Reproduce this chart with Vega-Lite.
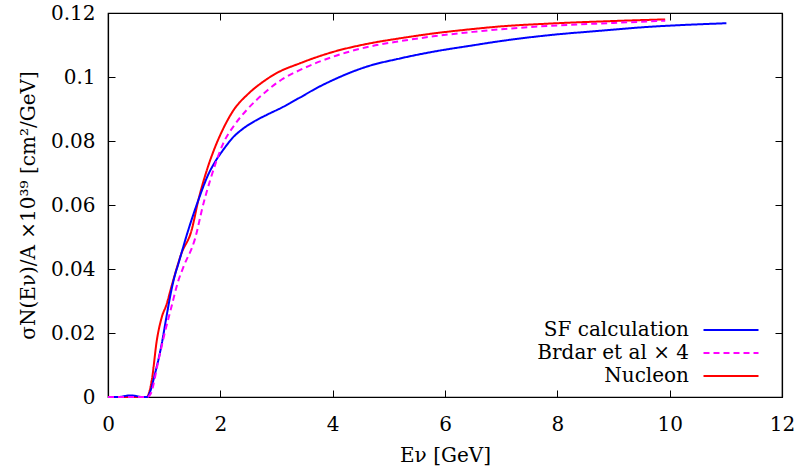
{
  "$schema": "https://vega.github.io/schema/vega-lite/v6.json",
  "width": 674,
  "height": 384,
  "autosize": {"type": "none"},
  "padding": {"left": 108, "top": 13, "right": 14, "bottom": 77},
  "background": "white",
  "config": {
    "view": {"stroke": "black", "strokeWidth": 1.2},
    "font": "DejaVu Serif",
    "axis": {"grid": false, "domain": true, "domainColor": "black", "domainWidth": 1.2, "tickSize": -7, "tickColor": "black", "tickWidth": 1,
             "labelFlush": false,
             "labelFont": "DejaVu Serif", "labelFontSize": 20, "labelColor": "black",
             "titleFont": "DejaVu Serif", "titleFontSize": 20, "titleFontWeight": "normal", "titleColor": "black"}
  },
  "data": {"values": [
    {"s": "Nucleon", "E": 0, "y": 0}, {"s": "Nucleon", "E": 0.5, "y": 0}, {"s": "Nucleon", "E": 0.69, "y": 0},
    {"s": "Nucleon", "E": 0.78, "y": 0.0053}, {"s": "Nucleon", "E": 0.87, "y": 0.0178}, {"s": "Nucleon", "E": 0.96, "y": 0.0251},
    {"s": "Nucleon", "E": 1.04, "y": 0.0288}, {"s": "Nucleon", "E": 1.13, "y": 0.0345}, {"s": "Nucleon", "E": 1.22, "y": 0.040},
    {"s": "Nucleon", "E": 1.3, "y": 0.0445}, {"s": "Nucleon", "E": 1.49, "y": 0.0522}, {"s": "Nucleon", "E": 1.61, "y": 0.0616},
    {"s": "Nucleon", "E": 1.76, "y": 0.0709}, {"s": "Nucleon", "E": 1.9, "y": 0.0778}, {"s": "Nucleon", "E": 2.05, "y": 0.0838},
    {"s": "Nucleon", "E": 2.23, "y": 0.0895}, {"s": "Nucleon", "E": 2.5, "y": 0.0948}, {"s": "Nucleon", "E": 2.76, "y": 0.0985},
    {"s": "Nucleon", "E": 3.0, "y": 0.1012}, {"s": "Nucleon", "E": 3.42, "y": 0.1043}, {"s": "Nucleon", "E": 4.0, "y": 0.1078},
    {"s": "Nucleon", "E": 4.6, "y": 0.1103}, {"s": "Nucleon", "E": 5.2, "y": 0.1121}, {"s": "Nucleon", "E": 5.79, "y": 0.1136},
    {"s": "Nucleon", "E": 6.5, "y": 0.1150}, {"s": "Nucleon", "E": 6.98, "y": 0.1158}, {"s": "Nucleon", "E": 7.87, "y": 0.1167},
    {"s": "Nucleon", "E": 9.0, "y": 0.1175}, {"s": "Nucleon", "E": 9.92, "y": 0.118},

    {"s": "SF calculation", "E": 0, "y": 0}, {"s": "SF calculation", "E": 0.2, "y": 0}, {"s": "SF calculation", "E": 0.3, "y": 0.0003},
    {"s": "SF calculation", "E": 0.4, "y": 0.0005}, {"s": "SF calculation", "E": 0.5, "y": 0.0003}, {"s": "SF calculation", "E": 0.6, "y": 0},
    {"s": "SF calculation", "E": 0.7, "y": 0}, {"s": "SF calculation", "E": 0.74, "y": 0.0012}, {"s": "SF calculation", "E": 0.84, "y": 0.0075},
    {"s": "SF calculation", "E": 0.96, "y": 0.0169}, {"s": "SF calculation", "E": 1.04, "y": 0.025}, {"s": "SF calculation", "E": 1.13, "y": 0.0335},
    {"s": "SF calculation", "E": 1.19, "y": 0.038}, {"s": "SF calculation", "E": 1.25, "y": 0.0415}, {"s": "SF calculation", "E": 1.43, "y": 0.0522},
    {"s": "SF calculation", "E": 1.61, "y": 0.0616}, {"s": "SF calculation", "E": 1.79, "y": 0.0697}, {"s": "SF calculation", "E": 1.9, "y": 0.0733},
    {"s": "SF calculation", "E": 2.05, "y": 0.0772}, {"s": "SF calculation", "E": 2.23, "y": 0.0812}, {"s": "SF calculation", "E": 2.4, "y": 0.0838},
    {"s": "SF calculation", "E": 2.59, "y": 0.086}, {"s": "SF calculation", "E": 2.83, "y": 0.0882}, {"s": "SF calculation", "E": 3.1, "y": 0.0905},
    {"s": "SF calculation", "E": 3.42, "y": 0.0936}, {"s": "SF calculation", "E": 3.7, "y": 0.0964}, {"s": "SF calculation", "E": 4.0, "y": 0.099},
    {"s": "SF calculation", "E": 4.6, "y": 0.1032}, {"s": "SF calculation", "E": 5.2, "y": 0.1058}, {"s": "SF calculation", "E": 5.79, "y": 0.1079},
    {"s": "SF calculation", "E": 6.5, "y": 0.1099}, {"s": "SF calculation", "E": 6.98, "y": 0.1112}, {"s": "SF calculation", "E": 7.87, "y": 0.1131},
    {"s": "SF calculation", "E": 8.8, "y": 0.1145}, {"s": "SF calculation", "E": 9.65, "y": 0.1157}, {"s": "SF calculation", "E": 10.3, "y": 0.1163},
    {"s": "SF calculation", "E": 11.01, "y": 0.1168},

    {"s": "Brdar et al × 4", "E": 0, "y": 0}, {"s": "Brdar et al × 4", "E": 0.7, "y": 0}, {"s": "Brdar et al × 4", "E": 0.76, "y": 0.001},
    {"s": "Brdar et al × 4", "E": 0.9, "y": 0.0116}, {"s": "Brdar et al × 4", "E": 1.01, "y": 0.02}, {"s": "Brdar et al × 4", "E": 1.13, "y": 0.0282},
    {"s": "Brdar et al × 4", "E": 1.25, "y": 0.0362}, {"s": "Brdar et al × 4", "E": 1.34, "y": 0.0405}, {"s": "Brdar et al × 4", "E": 1.55, "y": 0.0495},
    {"s": "Brdar et al × 4", "E": 1.7, "y": 0.0605}, {"s": "Brdar et al × 4", "E": 1.82, "y": 0.0678}, {"s": "Brdar et al × 4", "E": 2.05, "y": 0.0792},
    {"s": "Brdar et al × 4", "E": 2.26, "y": 0.0852}, {"s": "Brdar et al × 4", "E": 2.47, "y": 0.0897}, {"s": "Brdar et al × 4", "E": 2.83, "y": 0.0957},
    {"s": "Brdar et al × 4", "E": 3.1, "y": 0.0993}, {"s": "Brdar et al × 4", "E": 3.42, "y": 0.1022}, {"s": "Brdar et al × 4", "E": 4.0, "y": 0.1063},
    {"s": "Brdar et al × 4", "E": 4.6, "y": 0.1093}, {"s": "Brdar et al × 4", "E": 5.2, "y": 0.1112}, {"s": "Brdar et al × 4", "E": 5.79, "y": 0.1127},
    {"s": "Brdar et al × 4", "E": 6.5, "y": 0.1141}, {"s": "Brdar et al × 4", "E": 6.98, "y": 0.1149}, {"s": "Brdar et al × 4", "E": 7.87, "y": 0.116},
    {"s": "Brdar et al × 4", "E": 9.0, "y": 0.1169}, {"s": "Brdar et al × 4", "E": 9.92, "y": 0.1176}
  ]},
  "layer": [
    {
      "mark": {"type": "line", "strokeWidth": 2, "interpolate": "monotone"},
      "encoding": {
        "x": {"field": "E", "type": "quantitative", "scale": {"domain": [0, 12], "nice": false},
              "axis": {"orient": "bottom", "values": [0, 2, 4, 6, 8, 10, 12], "labelPadding": 24, "title": "Eν [GeV]", "titlePadding": 11}},
        "y": {"field": "y", "type": "quantitative", "scale": {"domain": [0, 0.12], "nice": false},
              "axis": {"orient": "left", "values": [0, 0.02, 0.04, 0.06, 0.08, 0.1, 0.12], "labelPadding": 20,
                       "labelExpr": "datum.value == 0 ? '0' : format(datum.value, '.2~f')",
                       "title": "σN(Eν)/A ×10³⁹ [cm²/GeV]", "titlePadding": 12}},
        "color": {"field": "s", "type": "nominal",
                  "scale": {"domain": ["SF calculation", "Brdar et al × 4", "Nucleon"], "range": ["#0000ff", "#ff00ff", "#ff0000"]},
                  "legend": {"title": null, "orient": "none", "legendX": 613, "legendY": 307, "symbolType": "M-5,0H5",
                             "symbolSize": 121, "symbolStrokeWidth": 2, "labelFontSize": 20, "labelFont": "DejaVu Serif",
                             "labelColor": "black", "labelAlign": "right", "labelOffset": -52, "rowPadding": 3}},
        "strokeDash": {"field": "s", "type": "nominal",
                       "scale": {"domain": ["SF calculation", "Brdar et al × 4", "Nucleon"], "range": [[1, 0], [6, 4], [1, 0]]},
                       "legend": null}
      }
    },
    {
      "mark": {"type": "line", "opacity": 0},
      "encoding": {
        "x": {"field": "E", "type": "quantitative", "axis": {"orient": "top", "values": [0, 2, 4, 6, 8, 10, 12], "labels": false, "title": null}},
        "y": {"field": "y", "type": "quantitative", "axis": {"orient": "right", "values": [0, 0.02, 0.04, 0.06, 0.08, 0.1, 0.12], "labels": false, "title": null}}
      }
    }
  ],
  "resolve": {"axis": {"x": "independent", "y": "independent"}}
}
